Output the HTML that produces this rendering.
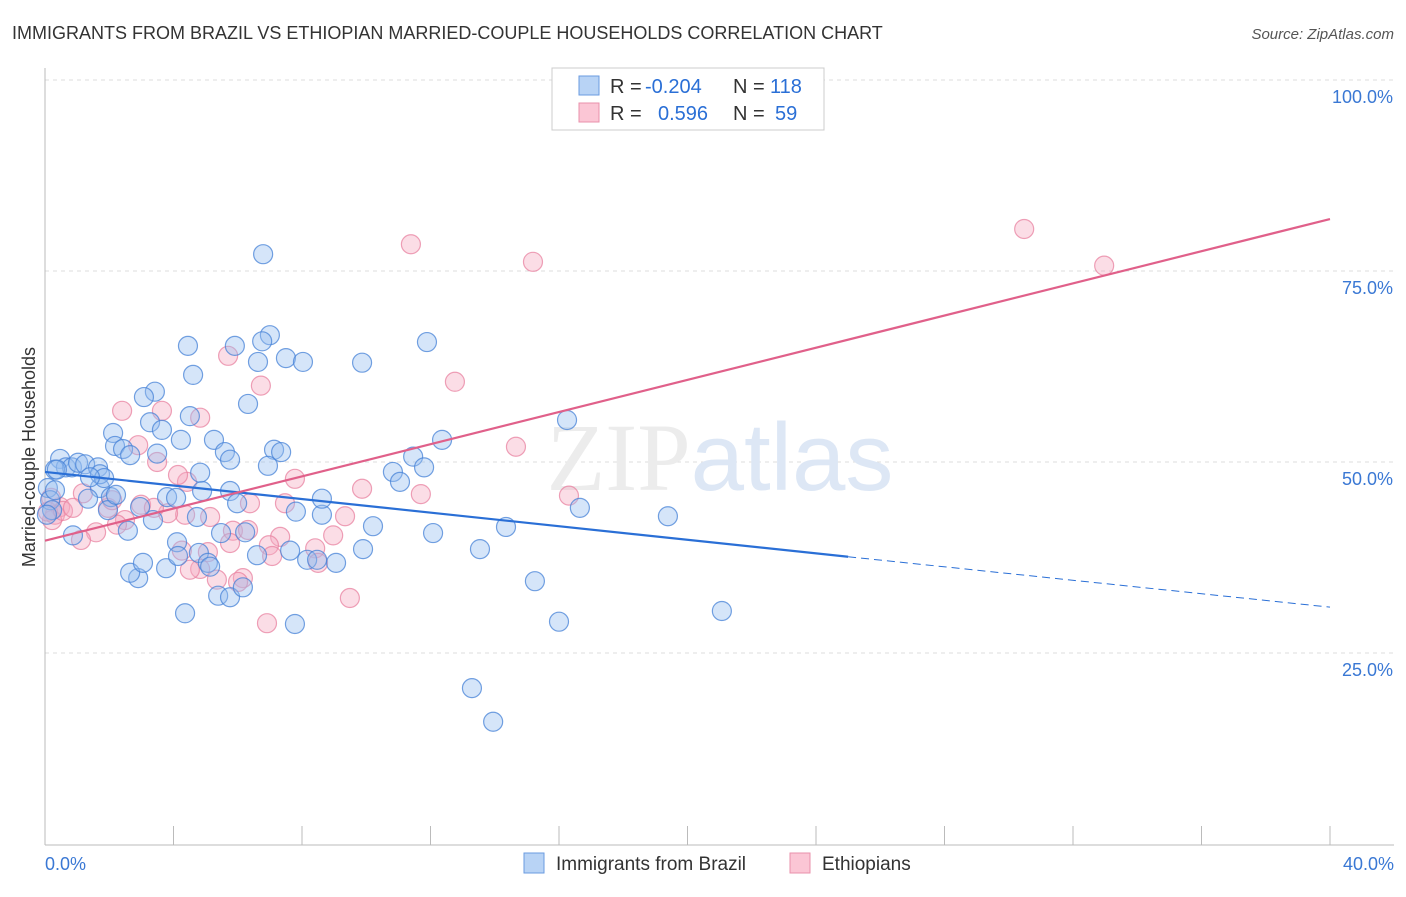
<!DOCTYPE html>
<html><head><meta charset="utf-8"><style>
body{margin:0;background:#fff;font-family:"Liberation Sans",sans-serif;}
</style></head><body>
<svg width="1406" height="892" xmlns="http://www.w3.org/2000/svg">
<text x="12" y="39" font-size="18" fill="#333">IMMIGRANTS FROM BRAZIL VS ETHIOPIAN MARRIED-COUPLE HOUSEHOLDS CORRELATION CHART</text>
<text x="1394" y="39" font-size="15" fill="#555" font-style="italic" text-anchor="end">Source: ZipAtlas.com</text>
<g id="grid"></g>
<text x="720" y="490" font-size="96" fill="#ececec" text-anchor="middle" font-family="Liberation Serif">ZIP<tspan fill="#dde7f5" font-family="Liberation Sans">atlas</tspan></text>
<text transform="translate(35,457) rotate(-90)" font-size="18" fill="#333" text-anchor="middle">Married-couple Households</text>
<g id="points"></g>
<g id="lines"></g>
<g>
<rect x="552" y="68" width="272" height="62" fill="#fff" stroke="#ccc"/>
<rect x="579" y="76" width="20" height="19" fill="#b8d3f5" stroke="#6a9be0"/>
<rect x="579" y="103" width="20" height="19" fill="#fbc6d5" stroke="#ea90ab"/>
<text x="610" y="93" font-size="20" fill="#333">R =</text>
<text x="645" y="93" font-size="20" fill="#2a6fd6">-0.204</text>
<text x="733" y="93" font-size="20" fill="#333">N =</text>
<text x="770" y="93" font-size="20" fill="#2a6fd6">118</text>
<text x="610" y="120" font-size="20" fill="#333">R =</text>
<text x="658" y="120" font-size="20" fill="#2a6fd6">0.596</text>
<text x="733" y="120" font-size="20" fill="#333">N =</text>
<text x="775" y="120" font-size="20" fill="#2a6fd6">59</text>
</g>
<g>
<rect x="524" y="853" width="20" height="20" fill="#b8d3f5" stroke="#6a9be0"/>
<text x="556" y="870" font-size="19" fill="#333">Immigrants from Brazil</text>
<rect x="790" y="853" width="20" height="20" fill="#fbc6d5" stroke="#ea90ab"/>
<text x="822" y="870" font-size="19" fill="#333">Ethiopians</text>
</g>
</svg>
<script>
const blueX=[6.79,7.0,6.76,5.91,4.45,7.50,8.03,6.63,9.87,11.89,4.61,3.42,3.08,6.32,4.51,3.27,3.64,4.23,2.12,2.18,2.43,2.65,5.26,5.60,3.49,7.13,7.35,6.94,12.36,11.46,10.83,11.80,11.05,16.25,16.65,19.39,14.35,12.08,10.21,13.54,15.25,16.0,21.07,13.29,13.95,9.90,9.06,8.16,7.63,6.60,8.47,4.36,5.39,5.76,6.16,7.78,2.90,2.65,3.05,3.77,4.11,4.14,4.79,5.07,5.14,4.73,3.36,2.58,0.87,1.71,2.05,1.96,1.34,0.47,0.65,0.84,1.03,1.25,1.65,1.71,1.84,0.31,0.09,0.16,0.22,0.31,0.06,2.96,3.80,4.08,4.89,5.76,5.98,4.83,5.76,7.81,8.62,8.62,5.48,6.23,0.37,1.40,2.21];
const blueY=[77.2,66.6,65.8,65.2,65.2,63.6,63.1,63.1,63.0,65.7,61.4,59.2,58.5,57.6,56.0,55.2,54.2,52.9,53.8,52.1,51.7,50.9,52.9,51.3,51.1,51.6,51.3,49.5,52.9,50.7,48.7,49.3,47.4,55.5,44.0,42.9,41.5,40.7,41.6,38.6,34.4,29.1,30.5,20.4,16.0,38.6,36.8,37.2,38.4,37.8,37.2,30.2,32.5,32.3,33.6,28.8,34.8,35.5,36.8,36.1,39.5,37.7,38.1,36.8,36.3,42.8,42.4,41.0,40.4,46.6,45.4,43.7,45.2,50.4,49.3,49.3,49.9,49.7,49.3,48.4,47.9,49.0,46.6,45.0,43.7,46.3,43.1,44.1,45.4,45.3,46.2,46.2,44.6,48.6,50.3,43.5,43.1,45.2,40.7,40.8,49.0,48.0,45.7];
const pinkX=[11.39,15.19,30.48,32.97,12.76,5.70,6.72,2.40,3.64,4.83,2.90,3.49,4.42,4.14,7.78,7.47,9.87,11.70,14.66,16.31,9.34,5.14,4.36,6.38,5.85,6.32,7.32,8.97,8.41,6.97,5.76,3.83,2.99,2.49,2.24,1.59,1.12,0.47,0.31,0.22,0.09,0.19,0.56,1.18,1.96,5.07,4.26,4.83,4.51,5.35,6.16,6.01,7.07,8.50,6.91,9.49,3.39,2.09,0.87];
const pinkY=[78.5,76.2,80.5,75.7,60.5,63.9,60.0,56.7,56.7,55.8,52.2,50.0,47.4,48.3,47.8,44.6,46.5,45.8,52.0,45.6,42.9,42.8,43.1,44.6,41.0,41.1,40.2,40.4,38.7,39.1,39.4,43.3,44.4,42.4,41.8,40.8,39.8,44.1,43.1,42.4,43.5,45.3,43.6,45.9,44.0,38.2,38.4,36.0,35.9,34.6,34.8,34.3,37.7,36.8,28.9,32.2,44.0,45.0,44.0];
const blueTrend=[48.7,37.6,31.0]; const blueTrendX=[0,25,40];
const pinkTrend=[39.7,81.8]; const pinkTrendX=[0,40];
const yTicks=[25,50,75,100];
const xTicks=[0,4,8,12,16,20,24,28,32,36,40];

const NS="http://www.w3.org/2000/svg";
const sx=v=>45+v/40*1285;
const sy=v=>844-v/100*764;
function mk(tag,attrs,parent){const e=document.createElementNS(NS,tag);for(const k in attrs)e.setAttribute(k,attrs[k]);parent.appendChild(e);return e;}
const grid=document.getElementById('grid');
yTicks.forEach(t=>{
  const l=mk('line',{x1:45,x2:1394,y1:sy(t),y2:sy(t),stroke:'#ddd','stroke-dasharray':'4,4'},grid);
  
  
  const tx=mk('text',{x:1393,y:sy(t)+23,'font-size':18,fill:'#3a78d4','text-anchor':'end'},grid);
  tx.textContent=t.toFixed(1)+'%';
  
  
});
mk('line',{x1:45,x2:45,y1:68,y2:845,stroke:'#bbb'},grid);
mk('line',{x1:45,x2:1394,y1:845,y2:845,stroke:'#bbb'},grid);
xTicks.forEach(t=>{
  const l=mk('line',{x1:sx(t),x2:sx(t),y1:826,y2:845,stroke:'#bbb'},grid);
  
  
});
[[0,'start',45],[40,'end',1394]].forEach(([t,a,x])=>{
  const tx=mk('text',{x:x,y:870,'font-size':18,fill:'#3a78d4','text-anchor':a},grid);
  tx.textContent=t.toFixed(1)+'%';
  
  
});
const pts=document.getElementById('points');
pinkX.forEach((x,i)=>{
  const c=mk('circle',{cx:sx(x),cy:sy(pinkY[i]),r:9.5,fill:'rgba(245,170,192,0.4)',stroke:'rgba(232,130,160,0.75)','stroke-width':1.2},pts);
  
  
});
blueX.forEach((x,i)=>{
  const c=mk('circle',{cx:sx(x),cy:sy(blueY[i]),r:9.5,fill:'rgba(150,190,240,0.4)',stroke:'rgba(70,130,215,0.75)','stroke-width':1.2},pts);
  
  
});
const lines=document.getElementById('lines');
const b1=mk('line',{x1:sx(blueTrendX[0]),y1:sy(blueTrend[0]),x2:sx(blueTrendX[1]),y2:sy(blueTrend[1]),stroke:'#2a6fd6','stroke-width':2.2},lines);


const b2=mk('line',{x1:sx(blueTrendX[1]),y1:sy(blueTrend[1]),x2:sx(blueTrendX[2]),y2:sy(blueTrend[2]),stroke:'#2a6fd6','stroke-width':1,'stroke-dasharray':'8,5'},lines);


const p1=mk('line',{x1:sx(pinkTrendX[0]),y1:sy(pinkTrend[0]),x2:sx(pinkTrendX[1]),y2:sy(pinkTrend[1]),stroke:'#e0608a','stroke-width':2.2},lines);


</script>
</body></html>
